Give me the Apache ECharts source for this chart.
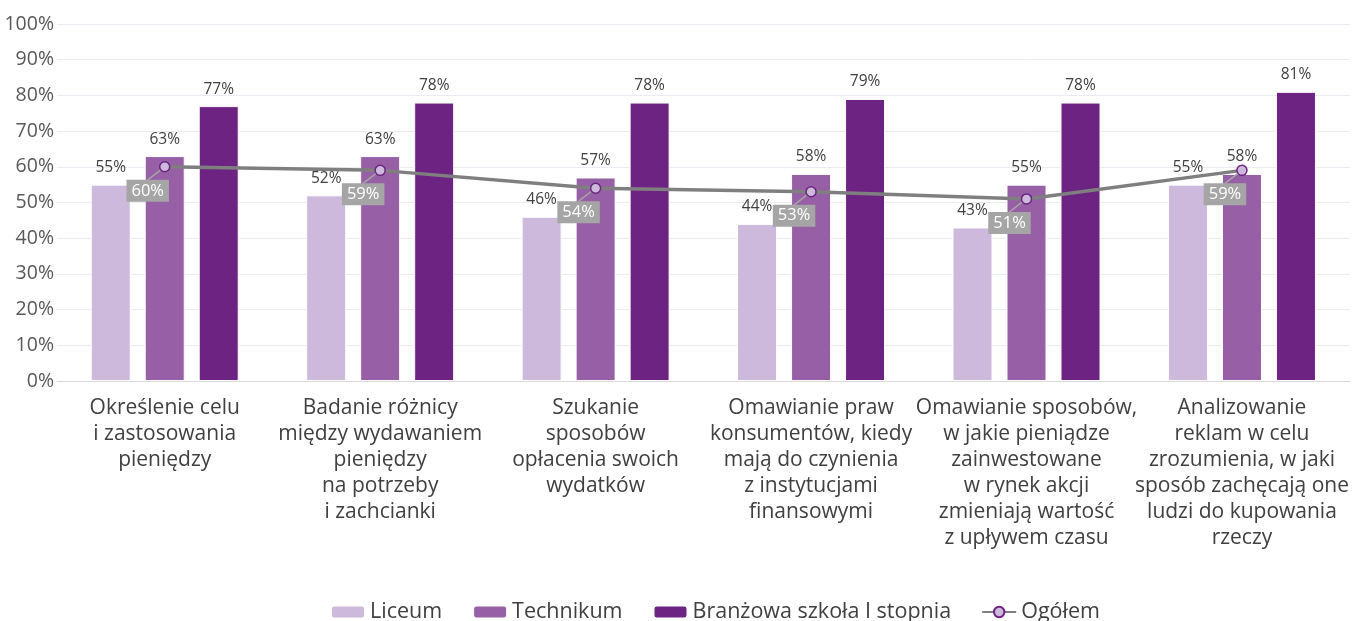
<!DOCTYPE html>
<html>
<head>
<meta charset="utf-8">
<script src="https://cdn.jsdelivr.net/npm/echarts@6/dist/echarts.min.js"></script>
<style>
  html, body { margin: 0; padding: 0; background: #fff; }
  #Chart { width: 1352px; height: 621px; }
</style>
</head>
<body>
<div id="Chart"></div>
<script>
// kategorie i dane
var categories = [
    'Określenie celu\ni zastosowania\npieniędzy',
    'Badanie różnicy\nmiędzy wydawaniem\npieniędzy\nna potrzeby\ni zachcianki',
    'Szukanie\nsposobów\nopłacenia swoich\nwydatków',
    'Omawianie praw\nkonsumentów, kiedy\nmają do czynienia\nz instytucjami\nfinansowymi',
    'Omawianie sposobów,\nw jakie pieniądze\nzainwestowane\nw rynek akcji\nzmieniają wartość\nz upływem czasu',
    'Analizowanie\nreklam w celu\nzrozumienia, w jaki\nsposób zachęcają one\nludzi do kupowania\nrzeczy'
];
var liceum = [55, 52, 46, 44, 43, 55];
var technikum = [63, 63, 57, 58, 55, 58];
var branzowa = [77, 78, 78, 79, 78, 81];
var ogolem = [60, 59, 54, 53, 51, 59];

var font = 'Open Sans';
var myChart = echarts.init(document.getElementById('Chart'));

function barSeries(name, data, color) {
    return {
        name: name,
        type: 'bar',
        data: data,
        barWidth: 40,
        barGap: '35%',
        itemStyle: { color: color, borderColor: '#fff', borderWidth: 1 },
        label: {
            show: true,
            position: 'top',
            distance: 9,
            formatter: '{c}%',
            color: '#404040',
            fontFamily: font,
            fontSize: 15.5
        }
    };
}

var option = {
    animation: false,
    textStyle: { fontFamily: font },
    grid: { left: 57, right: 2, top: 24, bottom: 240, containLabel: false },
    legend: {
        bottom: -7,
        left: 325,
        itemWidth: 34,
        itemHeight: 13,
        itemGap: 30,
        textStyle: { fontSize: 21.5, color: '#404040', fontFamily: font },
        data: ['Liceum', 'Technikum', 'Branżowa szkoła I stopnia', 'Ogółem']
    },
    xAxis: {
        type: 'category',
        data: categories,
        axisTick: { show: false },
        axisLine: { lineStyle: { color: '#d9d9d9', width: 1 } },
        axisLabel: {
            interval: 0,
            margin: 14,
            color: '#404040',
            fontFamily: font,
            fontSize: 21,
            lineHeight: 26
        }
    },
    yAxis: {
        type: 'value',
        min: 0,
        max: 100,
        interval: 10,
        axisLabel: { formatter: '{value}%', color: '#595959', fontSize: 19.5, fontFamily: font, margin: 3 },
        splitLine: { lineStyle: { color: '#eeeaf2' } },
        axisLine: { show: false },
        axisTick: { show: false }
    },
    series: [
        barSeries('Liceum', liceum, '#cdb9dc'),
        barSeries('Technikum', technikum, '#975fa5'),
        barSeries('Branżowa szkoła I stopnia', branzowa, '#6c2382'),
        {
            name: 'Ogółem',
            type: 'line',
            data: ogolem,
            symbol: 'circle',
            symbolSize: 10,
            z: 5,
            lineStyle: { color: '#7f7f7f', width: 3.5 },
            itemStyle: { color: '#cdb9dc', borderColor: '#6c2382', borderWidth: 1.5 },
            label: {
                show: true,
                position: 'inside',
                formatter: '{c}%',
                color: '#fff',
                fontFamily: font,
                fontSize: 16.5,
                backgroundColor: '#a5a5a5',
                padding: [3, 5, 2, 5]
            },
            labelLayout: { dx: -17, dy: 24 },
            labelLine: { show: true, lineStyle: { color: '#a5a5a5', width: 1.5 } }
        }
    ]
};
myChart.setOption(option);
</script>
</body>
</html>
